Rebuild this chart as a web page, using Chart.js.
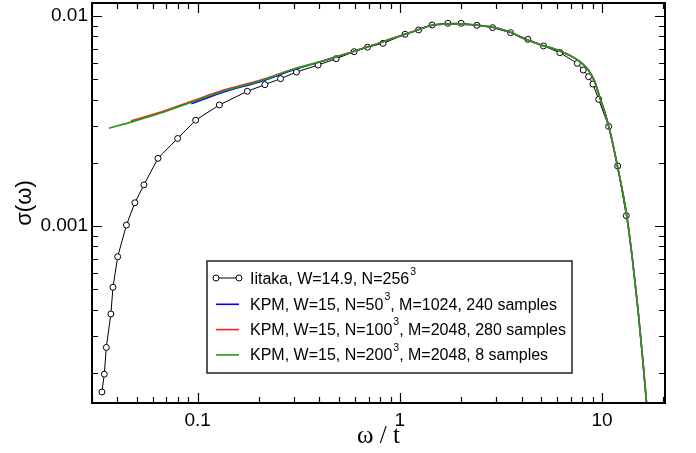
<!DOCTYPE html>
<html>
<head>
<meta charset="utf-8">
<script src="https://cdn.jsdelivr.net/npm/chart.js@4"></script>
<style>
  html, body { margin:0; padding:0; background:#fff; }
  #wrap { width:696px; height:453px; }
</style>
</head>
<body>
<div id="wrap"><canvas id="sigmaChart" width="696" height="453"></canvas></div>
<script>
/* -------- DATA -------- */
// Iitaka, W=14.9, N=256^3 (circles)
const iitakaX = [0.0336, 0.0345, 0.0353, 0.0372, 0.0381, 0.0402, 0.0444, 0.0489, 0.0542, 0.0636,
                 0.0796, 0.0977, 0.128, 0.176, 0.215, 0.257, 0.308, 0.394, 0.484, 0.594,
                 0.692, 0.826, 1.062, 1.238, 1.445, 1.728, 2.011, 2.405, 2.876, 3.53,
                 4.30, 5.14, 6.19, 7.55, 8.08, 8.59, 9.02, 9.63, 10.79, 11.96, 13.19];
const iitakaY = [0.000162, 0.000197, 0.000264, 0.000381, 0.000511, 0.000714, 0.00101, 0.00129, 0.00157, 0.00210,
                 0.00261, 0.00319, 0.00377, 0.00438, 0.00471, 0.00503, 0.00541, 0.00584, 0.00626, 0.00676,
                 0.00710, 0.00741, 0.00818, 0.00858, 0.00906, 0.00923, 0.00923, 0.00903, 0.00880, 0.00833,
                 0.00774, 0.00720, 0.00669, 0.00595, 0.00553, 0.00514, 0.00474, 0.00401, 0.00298, 0.00193, 0.00112];

// KPM curves coincide above w ~ 0.4, so they share this common part
const kpmTailX = [0.420, 0.566, 0.720, 0.892, 1.0, 1.2, 1.46, 1.91, 2.80, 3.5,
                  4.08, 5.0, 5.97, 6.95, 7.78, 8.52, 9.13, 9.78, 10.35, 10.95,
                  11.87, 13.22, 14.16, 15.08, 15.92, 16.61, 16.89];
const kpmTailY = [0.00612, 0.00669, 0.00721, 0.00774, 0.00803, 0.00851, 0.00906, 0.00916, 0.00889, 0.00840,
                  0.00783, 0.00727, 0.00691, 0.00648, 0.00607, 0.00556, 0.00496, 0.00407, 0.00345, 0.00283,
                  0.00197, 0.00114, 0.000689, 0.000398, 0.000230, 0.000144, 0.000119];

// low-frequency starts of each KPM run
const kpm50X  = [0.093, 0.131, 0.211, 0.296];
const kpm50Y  = [0.00382, 0.00431, 0.00492, 0.00553];
const kpm100X = [0.0468, 0.0639, 0.0948, 0.131, 0.211, 0.296];
const kpm100Y = [0.00317, 0.00346, 0.00395, 0.00440, 0.00499, 0.00558];
const kpm200X = [0.0364, 0.0478, 0.0639, 0.0948, 0.131, 0.211, 0.296];
const kpm200Y = [0.00292, 0.00314, 0.00342, 0.00391, 0.00436, 0.00496, 0.00557];

// axis ticks
const xTickVals = [0.03, 0.04, 0.05, 0.06, 0.07, 0.08, 0.09, 0.1, 0.2, 0.3, 0.4, 0.5, 0.6, 0.7, 0.8, 0.9,
                   1, 2, 3, 4, 5, 6, 7, 8, 9, 10, 20];
const xLabelVals = [0.1, 1, 10];
const xLabelText = ["0.1", "1", "10"];
const yTickVals = [0.0002, 0.0003, 0.0004, 0.0005, 0.0006, 0.0007, 0.0008, 0.0009,
                   0.001, 0.002, 0.003, 0.004, 0.005, 0.006, 0.007, 0.008, 0.009, 0.01];
const yLabelVals = [0.001, 0.01];
const yLabelText = ["0.001", "0.01"];

// legend rows: [text, superscript, text after]
const legendRows = [
  ["Iitaka, W=14.9, N=256", "3", ""],
  ["KPM, W=15, N=50", "3", ", M=1024, 240 samples"],
  ["KPM, W=15, N=100", "3", ", M=2048, 280 samples"],
  ["KPM, W=15, N=200", "3", ", M=2048, 8 samples"]
];
const colBlue = "#0000ee", colRed = "#ff2020", colGreen = "#1e9a1e";

/* -------- helpers -------- */
function pts(xs, ys){ return xs.map((x, i) => ({x: x, y: ys[i]})); }
function findLabel(v, vals, txt){
  const i = vals.findIndex(a => Math.abs(a - v) / a < 1e-6);
  return i >= 0 ? txt[i] : "";
}
function isDecade(v){
  const l = Math.log10(v);
  return Math.abs(l - Math.round(l)) < 1e-6;
}

/* -------- frame + inward ticks on all four sides -------- */
const frameTicks = {
  id: "frameTicks",
  afterDatasetsDraw(chart){
    const {ctx, chartArea: a, scales} = chart;
    ctx.save();
    ctx.strokeStyle = "#000";
    ctx.lineWidth = 1.2;
    ctx.beginPath();
    scales.x.ticks.forEach(t => {
      const px = Math.round(scales.x.getPixelForValue(t.value)) + 0.5;
      const len = isDecade(t.value) ? 10 : 6;
      ctx.moveTo(px, a.bottom); ctx.lineTo(px, a.bottom - len);
      ctx.moveTo(px, a.top);    ctx.lineTo(px, a.top + len);
    });
    scales.y.ticks.forEach(t => {
      const py = Math.round(scales.y.getPixelForValue(t.value)) + 0.5;
      const len = isDecade(t.value) ? 10 : 6;
      ctx.moveTo(a.left, py);  ctx.lineTo(a.left + len, py);
      ctx.moveTo(a.right, py); ctx.lineTo(a.right - len, py);
    });
    ctx.stroke();
    ctx.lineWidth = 2;
    ctx.strokeRect(a.left, a.top, a.right - a.left, a.bottom - a.top);
    ctx.restore();
  }
};

/* -------- boxed legend with superscripts -------- */
const boxLegend = {
  id: "boxLegend",
  afterDraw(chart){
    const {ctx, chartArea: a} = chart;
    const bx = a.left + 115, by = a.top + 258, bw = 365, bh = 112;
    const mainFont = '16px "Liberation Sans", Arial, sans-serif';
    const supFont = '10.5px "Liberation Sans", Arial, sans-serif';
    ctx.save();
    ctx.fillStyle = "#fff";
    ctx.fillRect(bx, by, bw, bh);
    ctx.strokeStyle = "#222";
    ctx.lineWidth = 1.5;
    ctx.strokeRect(bx, by, bw, bh);

    const lineCols = [null, colBlue, colRed, colGreen];
    legendRows.forEach((row, i) => {
      const cy = by + 19 + i * 25.3;
      const lx0 = bx + 9, lx1 = bx + 32;
      if(i === 0){
        ctx.strokeStyle = "#000"; ctx.lineWidth = 1;
        ctx.beginPath(); ctx.moveTo(lx0, cy - 2); ctx.lineTo(lx1, cy - 2); ctx.stroke();
        [lx0, lx1].forEach(cx => {
          ctx.beginPath(); ctx.arc(cx, cy - 2, 3, 0, Math.PI * 2);
          ctx.fillStyle = "#fff"; ctx.fill(); ctx.stroke();
        });
      } else {
        ctx.strokeStyle = lineCols[i]; ctx.lineWidth = 1.6;
        ctx.beginPath(); ctx.moveTo(lx0, cy - 1); ctx.lineTo(lx1, cy - 1); ctx.stroke();
      }
      let tx = bx + 43;
      ctx.fillStyle = "#000";
      ctx.textBaseline = "middle";
      ctx.font = mainFont;
      ctx.fillText(row[0], tx, cy);
      tx += ctx.measureText(row[0]).width + 1;
      ctx.font = supFont;
      ctx.fillText(row[1], tx, cy - 8);
      tx += ctx.measureText(row[1]).width;
      ctx.font = mainFont;
      ctx.fillText(row[2], tx, cy);
    });
    ctx.restore();
  }
};

/* -------- CHART -------- */
const tickFont = {family: '"Liberation Sans", Arial, sans-serif', size: 19};

new Chart(document.getElementById("sigmaChart"), {
  type: "line",
  data: {
    datasets: [
      { label: "Iitaka", data: pts(iitakaX, iitakaY), order: 3,
        borderColor: "#000", borderWidth: 1, tension: 0,
        pointRadius: 3, pointBorderWidth: 1, pointBorderColor: "#000", pointBackgroundColor: "#fff" },
      { label: "KPM 50", data: pts(kpm50X.concat(kpmTailX), kpm50Y.concat(kpmTailY)), order: 2,
        borderColor: colBlue, borderWidth: 1.6, pointRadius: 0, cubicInterpolationMode: "monotone" },
      { label: "KPM 100", data: pts(kpm100X.concat(kpmTailX), kpm100Y.concat(kpmTailY)), order: 1,
        borderColor: colRed, borderWidth: 1.6, pointRadius: 0, cubicInterpolationMode: "monotone" },
      { label: "KPM 200", data: pts(kpm200X.concat(kpmTailX), kpm200Y.concat(kpmTailY)), order: 0,
        borderColor: colGreen, borderWidth: 1.6, pointRadius: 0, cubicInterpolationMode: "monotone" }
    ]
  },
  options: {
    responsive: false,
    animation: false,
    devicePixelRatio: 1,
    layout: { autoPadding: false, padding: {top: 3, right: 31, bottom: 0, left: 0} },
    plugins: { legend: {display: false}, tooltip: {enabled: false} },
    scales: {
      x: {
        type: "logarithmic", min: 0.03, max: 20.5,
        grid: {display: false, drawTicks: false}, border: {display: false},
        afterBuildTicks: s => { s.ticks = xTickVals.map(v => ({value: v})); },
        afterFit: s => { s.height = 50; s.paddingLeft = 0; s.paddingRight = 0; },
        ticks: { autoSkip: false, maxRotation: 0, padding: 6, color: "#000", font: tickFont,
                 callback: v => findLabel(v, xLabelVals, xLabelText) },
        title: { display: true, text: "ω / t", color: "#000",
                 font: {family: '"Liberation Serif", "Times New Roman", serif', size: 25},
                 padding: {top: 0, bottom: 2} }
      },
      y: {
        type: "logarithmic", min: 0.0001436, max: 0.01153,
        grid: {display: false, drawTicks: false}, border: {display: false},
        afterBuildTicks: s => { s.ticks = yTickVals.map(v => ({value: v})); },
        afterFit: s => { s.width = 92; s.paddingTop = 0; s.paddingBottom = 0; },
        ticks: { autoSkip: false, padding: 4, color: "#000", font: tickFont,
                 callback: v => findLabel(v, yLabelVals, yLabelText) },
        title: { display: true, text: "σ(ω)", color: "#000",
                 font: {family: '"Liberation Sans", Arial, sans-serif', size: 22},
                 padding: {top: 12, bottom: 0} }
      }
    }
  },
  plugins: [frameTicks, boxLegend]
});
</script>
</body>
</html>
